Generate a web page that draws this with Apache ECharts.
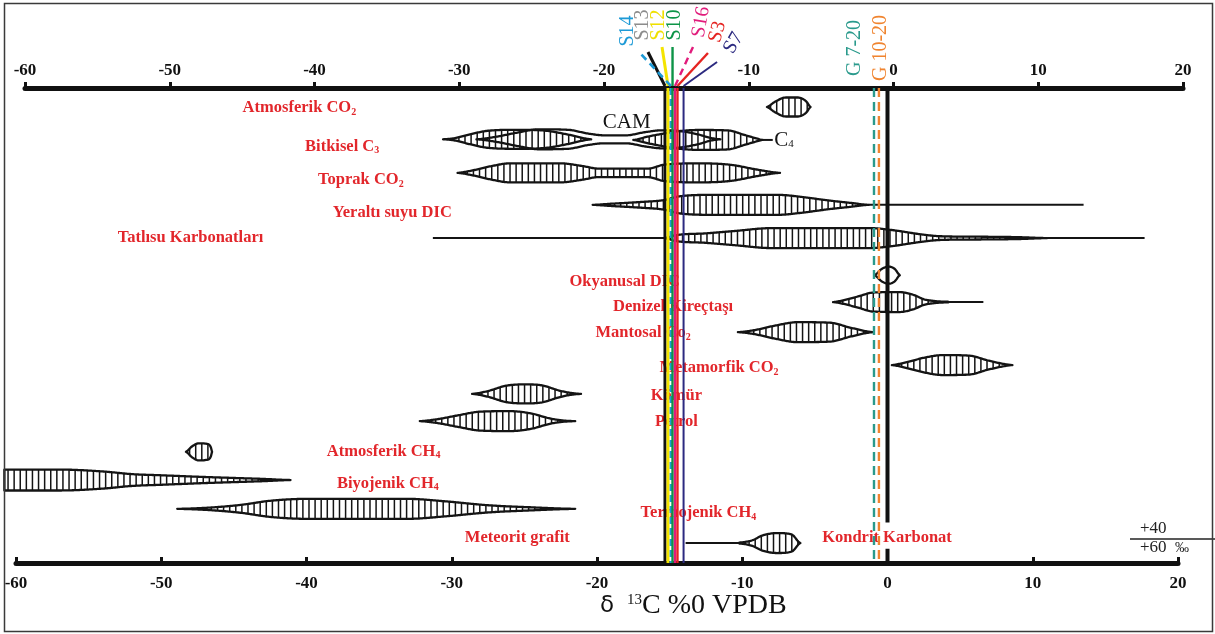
<!DOCTYPE html>
<html><head><meta charset="utf-8">
<script src="https://cdn.jsdelivr.net/npm/echarts@6/dist/echarts.min.js"></script>
<style>html,body{margin:0;padding:0;background:#fff}#c{width:1215px;height:634px}</style>
</head><body><div id="c"></div>
<script>
// ---------------- DATA ----------------
const tickMin = -60, tickMax = 20, tickStep = 10;

// reservoir labels ("_x" = subscript), anchor δ (left edge) and row
const labelTexts = ['Atmosferik CO_2','Bitkisel C_3','Toprak CO_2','Yeraltı suyu DIC','Tatlısu Karbonatları','Okyanusal DIC','Denizel Kireçtaşı','Mantosal Co_2','Metamorfik CO_2','Kömür','Petrol','Atmosferik CH_4','Biyojenik CH_4','Termojenik CH_4','Meteorit grafit','Kondrit Karbonat'];
const labelDelta = [-44.4,-40.1,-39.2,-38.2,-53.0,-21.9,-18.9,-20.1,-15.7,-16.3,-16.0,-38.6,-37.9,-17.0,-29.1,-4.5];
const labelRow   = [0.63,1.86,2.91,3.95,4.74,6.13,6.92,7.74,8.84,9.73,10.55,11.49,12.5,13.42,14.21,14.21];

// δ13C ranges drawn as spindles: profile = [δ, relative thickness]
const spindleNames = ['Atmosferik CO2','C3','CAM','C4','Toprak CO2','Yeraltı suyu DIC','Tatlısu Karbonatları','Okyanusal DIC','Denizel Kireçtaşı','Mantosal CO2','Metamorfik CO2','Kömür','Petrol','Atmosferik CH4','Biyojenik CH4','Termojenik CH4','Kondrit Karbonat'];
const spindleRow = [0.60,1.62,1.62,1.64,2.68,3.69,4.74,5.91,6.76,7.71,8.75,9.66,10.52,11.49,12.38,13.29,14.37];
const spindleHatched = [true,true,false,true,true,true,true,false,true,true,true,true,true,true,true,true,true];
const spindleProfiles = [
  [[-8.3,0],[-7.8,0.5],[-7.0,1.0],[-6.2,1.0],[-5.6,0.6],[-5.3,0]],
  [[-30.6,0],[-29.8,0.12],[-28.8,0.5],[-27.5,0.9],[-25.5,1.0],[-23.5,0.9],[-22,0.5],[-20.4,0]],
  [[-28.3,0],[-27,0.25],[-25.5,0.7],[-24,1.05],[-22,1.0],[-20.6,0.6],[-19.5,0.42],[-18,0.42],[-16.7,0.75],[-15.5,0.95],[-14.2,0.85],[-13,0.5],[-12.2,0.15],[-11.5,0]],
  [[-17.5,0],[-16.5,0.35],[-15.5,0.65],[-14.5,0.9],[-13,1.05],[-11,1.0],[-9.8,0.5],[-9,0.15],[-8.6,0]],
  [[-29.6,0],[-28.5,0.28],[-27.3,0.7],[-26,1.0],[-22.5,1.0],[-21,0.72],[-19.9,0.45],[-16.5,0.45],[-15.4,0.85],[-13,1.0],[-10.8,0.85],[-9,0.35],[-7.4,0]],
  [[-20.3,0],[-19,0.12],[-17,0.3],[-15.4,0.5],[-14.3,0.9],[-12,1.05],[-7.5,1.05],[-6,0.85],[-4,0.45],[-2.5,0.2],[-1.3,0]],
  [[-15.2,0.05],[-14.6,0.3],[-12.5,0.5],[-10.5,0.75],[-8,1.05],[-1.2,1.05],[0.3,0.85],[2.2,0.42],[3.6,0.2],[6,0.15],[9,0.1],[11,0]],
  [[-0.9,0],[-0.4,0.65],[0.1,0.9],[0.5,0.65],[0.85,0]],
  [[-3.75,0],[-3,0.2],[-2,0.6],[-1,1.0],[0.8,1.05],[1.8,0.75],[2.5,0.3],[3.3,0.1],[4.2,0.03]],
  [[-10.3,0],[-9.2,0.2],[-7.7,0.7],[-6.2,1.05],[-4,1.0],[-2.5,0.45],[-1,0]],
  [[0.3,0],[1.3,0.3],[2.6,0.8],[3.8,1.05],[5.6,1.0],[7,0.45],[8.6,0]],
  [[-28.6,0],[-27.5,0.3],[-26.3,0.85],[-25,1.0],[-23.8,0.9],[-22.6,0.35],[-21.8,0.1],[-21.1,0]],
  [[-32.2,0],[-31,0.2],[-29.6,0.6],[-28,1.0],[-26,1.05],[-24.5,0.8],[-23.3,0.3],[-22.4,0.08],[-21.5,0]],
  [[-48.3,0],[-47.9,0.55],[-47.4,0.9],[-46.9,0.85],[-46.6,0.55],[-46.5,0]],
  [[-60.8,1.1],[-57,1.1],[-54,0.9],[-52,0.62],[-50,0.5],[-47,0.32],[-45,0.22],[-43,0.12],[-41.1,0]],
  [[-48.9,0],[-46.5,0.15],[-44.5,0.42],[-42.5,0.85],[-40,1.05],[-33,1.05],[-30.5,0.8],[-27.5,0.38],[-24.5,0.16],[-21.5,0]],
  [[-10.2,0.05],[-9.3,0.3],[-8.6,0.8],[-7.6,1.05],[-6.6,0.9],[-6.0,0]]
];

// thin range lines: [row, from δ, to δ]
const tailRow  = [1.64, 3.69, 4.74, 4.74, 6.76, 14.37];
const tailFrom = [-8.6, -1.3, -31.3, 11, 4.2, -13.9];
const tailTo   = [-7.9, 13.5, -15.2, 17.7, 6.6, -10.2];

// small black labels on the plant row
const noteTexts = ['CAM', 'C_4'];
const noteDelta = [-19.6, -7.8];
const noteRow   = [1.1, 1.66];

// measured samples (vertical lines)
const sampleNames = ['S13','S12','S14','S10','S16','S3','S7','G 7-20','G 10-20'];
const sampleDelta = [-15.32,-15.11,-14.91,-14.80,-14.63,-14.46,-14.04,-0.93,-0.59];

// zero reference line segments (rows)
const zeroFrom = [0, 14.55];
const zeroTo   = [13.72, 15];

// ---------------- STYLE ----------------
const HH = 9.5, HATCH = 6.1, INK = '#141414', RED = '#e2262b';
const sampleStyle = {
  'S13':    {line:'#111111', text:'#8c8c8c', width:3,   dash:null,  lead:[-17,-36], leadDash:false, lab:[-22,-63], rot:90},
  'S12':    {line:'#f4e400', text:'#efe000', width:3,   dash:null,  lead:[-6,-41],  leadDash:false, lab:[-9,-63],  rot:90},
  'S14':    {line:'#1d9ad6', text:'#1d9ad6', width:2.6, dash:[7,4], lead:[-31,-35], leadDash:true,  lab:[-43,-57], rot:90},
  'S10':    {line:'#0d9447', text:'#0d9447', width:2.4, dash:null,  lead:[0,-41],   leadDash:false, lab:[2.5,-63], rot:90},
  'S16':    {line:'#e11b7b', text:'#e11b7b', width:2.4, dash:null,  lead:[18,-41],  leadDash:true,  lab:[26,-66],  rot:80},
  'S3':     {line:'#e52421', text:'#e52421', width:2.4, dash:null,  lead:[30.5,-35],leadDash:false, lab:[40,-56],  rot:75},
  'S7':     {line:'#2c2a80', text:'#2c2a80', width:2,   dash:null,  lead:[33.5,-26],leadDash:false, lab:[50,-45],  rot:60},
  'G 7-20': {line:'#2a9a8c', text:'#2a9a8c', width:2.4, dash:[9,5], lead:null, lab:[-19,-40], rot:90},
  'G 10-20':{line:'#f0842f', text:'#f0842f', width:2.4, dash:[9,5], lead:null, lab:[2,-40],   rot:90}
};

function richText(s) {
  const k = s.indexOf('_');
  if (k < 0) return '{m|' + s + '}';
  return '{m|' + s.slice(0, k) + '}{s|' + s.slice(k + 1) + '}';
}

function mono(xs, ys) {
  const n = xs.length, d = [], m = [];
  for (let i = 0; i < n - 1; i++) d.push((ys[i+1] - ys[i]) / Math.max(xs[i+1] - xs[i], 1e-6));
  m[0] = d[0] * 0.35; m[n-1] = d[n-2] * 0.35;
  for (let i = 1; i < n - 1; i++) m[i] = (d[i-1] * d[i] <= 0) ? 0 : (d[i-1] + d[i]) / 2;
  for (let i = 0; i < n - 1; i++) {
    if (d[i] === 0) { m[i] = 0; m[i+1] = 0; continue; }
    const a = m[i] / d[i], b = m[i+1] / d[i], s = a*a + b*b;
    if (s > 9) { const t = 3 / Math.sqrt(s); m[i] = t*a*d[i]; m[i+1] = t*b*d[i]; }
  }
  return function (x) {
    let i = 0;
    while (i < n - 2 && x > xs[i+1]) i++;
    const h = xs[i+1] - xs[i], t = Math.min(Math.max((x - xs[i]) / h, 0), 1);
    const t2 = t*t, t3 = t2*t;
    const v = (2*t3 - 3*t2 + 1)*ys[i] + (t3 - 2*t2 + t)*h*m[i] + (-2*t3 + 3*t2)*ys[i+1] + (t3 - t2)*h*m[i+1];
    return Math.max(v, 0);
  };
}

const chart = echarts.init(document.getElementById('c'), null, {renderer: 'canvas'});

const axisLabelStyle = {color: '#111', fontFamily: 'Liberation Serif', fontWeight: 'bold', fontSize: 17};

const option = {
  backgroundColor: '#fff',
  animation: false,
  grid: [
    {left: 16, right: 37, top: 88, bottom: 71},
    {left: 25, right: 32, top: 88, bottom: 71}
  ],
  xAxis: [
    {gridIndex: 0, type: 'value', min: tickMin, max: tickMax, interval: tickStep, position: 'bottom',
     axisLine: {show: true, onZero: false, lineStyle: {color: '#111', width: 5}},
     axisTick: {show: true, inside: true, length: 6, lineStyle: {color: '#111', width: 3}},
     axisLabel: Object.assign({margin: 12}, axisLabelStyle), splitLine: {show: false}},
    {gridIndex: 1, type: 'value', min: tickMin, max: tickMax, interval: tickStep, position: 'top',
     axisLine: {show: true, onZero: false, lineStyle: {color: '#111', width: 5}},
     axisTick: {show: true, inside: false, length: 6, lineStyle: {color: '#111', width: 3}},
     axisLabel: Object.assign({margin: 9}, axisLabelStyle), splitLine: {show: false}}
  ],
  yAxis: [
    {gridIndex: 0, type: 'value', min: 0, max: 15, inverse: true, show: false},
    {gridIndex: 1, type: 'value', min: 0, max: 1, show: false}
  ],
  graphic: [
    {type: 'rect', silent: true, z: 100, shape: {x: 4.5, y: 3.5, width: 1208, height: 628},
     style: {fill: 'none', stroke: '#3a3a3a', lineWidth: 1.5}},
    {type: 'text', silent: true, x: 600, y: 606, style: {
      text: '{d|δ}{g| }{u|13}{t|C %0 VPDB}', align: 'left', verticalAlign: 'middle',
      rich: {
        d: {fontFamily: 'DejaVu Sans', fontSize: 23, fill: '#111', lineHeight: 30, verticalAlign: 'middle'},
        g: {fontFamily: 'Liberation Serif', fontSize: 20, fill: '#111', lineHeight: 30, width: 13},
        u: {fontFamily: 'Liberation Serif', fontSize: 15, fill: '#111', lineHeight: 30, verticalAlign: 'top', padding: [2, 0, 0, 0]},
        t: {fontFamily: 'Liberation Serif', fontSize: 28, fill: '#111', lineHeight: 30, verticalAlign: 'middle'}
      }}},
    {type: 'text', silent: true, x: 1140, y: 529, style: {text: '+40', font: '17px "Liberation Serif"', fill: '#222', align: 'left', verticalAlign: 'middle'}},
    {type: 'line', silent: true, shape: {x1: 1130, y1: 539, x2: 1215, y2: 539}, style: {stroke: '#222', lineWidth: 1.6}},
    {type: 'text', silent: true, x: 1140, y: 548, style: {text: '{a|+60  }{b|‰}', align: 'left', verticalAlign: 'middle',
      rich: {a: {fontFamily: 'Liberation Serif', fontSize: 17, fill: '#222'}, b: {fontFamily: 'Liberation Serif', fontSize: 14, fill: '#222'}}}}
  ],
  series: [
    { // spindles
      type: 'custom', xAxisIndex: 0, yAxisIndex: 0, clip: false, z: 2, silent: true,
      data: spindleNames.map((n, i) => [spindleProfiles[i][0][0], spindleRow[i]]),
      encode: {x: 0, y: 1},
      renderItem: function (params, api) {
        const i = params.dataIndex, prof = spindleProfiles[i], row = spindleRow[i];
        const yc = api.coord([0, row])[1];
        const xs = prof.map(p => api.coord([p[0], row])[0]);
        const ws = prof.map(p => p[1] * HH);
        const f = mono(xs, ws);
        const x0 = xs[0], x1 = xs[xs.length - 1];
        const top = [], bot = [];
        for (let x = x0; x < x1; x += 1) { const h = f(x); top.push([x, yc - h]); bot.push([x, yc + h]); }
        top.push([x1, yc - ws[ws.length - 1]]); bot.push([x1, yc + ws[ws.length - 1]]);
        const children = [];
        if (spindleHatched[i]) {
          for (let x = x0 + HATCH * 0.6; x < x1; x += HATCH) {
            const h = f(x);
            if (h > 1.0) children.push({type: 'line', shape: {x1: x, y1: yc - h, x2: x, y2: yc + h}, style: {stroke: INK, lineWidth: 1.5}});
          }
        }
        children.push({type: 'polygon', shape: {points: top.concat(bot.reverse())}, style: {fill: 'none', stroke: INK, lineWidth: 2.3, lineJoin: 'round'}});
        return {type: 'group', children: children};
      }
    },
    { // thin range lines
      type: 'custom', xAxisIndex: 0, yAxisIndex: 0, clip: false, z: 2, silent: true,
      data: tailRow.map((r, i) => [tailFrom[i], r, tailTo[i]]),
      encode: {x: [0, 2], y: 1},
      renderItem: function (params, api) {
        const a = api.coord([api.value(0), api.value(1)]), b = api.coord([api.value(2), api.value(1)]);
        return {type: 'line', shape: {x1: a[0], y1: a[1], x2: b[0], y2: b[1]}, style: {stroke: INK, lineWidth: 2}};
      }
    },
    { // reservoir labels
      type: 'custom', xAxisIndex: 0, yAxisIndex: 0, clip: false, z: 3, silent: true,
      data: labelTexts.map((t, i) => [labelDelta[i], labelRow[i]]),
      encode: {x: 0, y: 1},
      renderItem: function (params, api) {
        const p = api.coord([api.value(0), api.value(1)]);
        return {type: 'text', x: p[0], y: p[1], style: {
          text: richText(labelTexts[params.dataIndex]), fill: RED, align: 'left', verticalAlign: 'middle',
          rich: {
            m: {fontFamily: 'Liberation Serif', fontWeight: 'bold', fontSize: 16.5, fill: RED, lineHeight: 20},
            s: {fontFamily: 'Liberation Serif', fontWeight: 'bold', fontSize: 10, fill: RED, lineHeight: 20, verticalAlign: 'bottom', padding: [0, 0, 1, 0]}
          }}};
      }
    },
    { // black notes (CAM, C4)
      type: 'custom', xAxisIndex: 0, yAxisIndex: 0, clip: false, z: 3, silent: true,
      data: noteTexts.map((t, i) => [noteDelta[i], noteRow[i]]),
      encode: {x: 0, y: 1},
      renderItem: function (params, api) {
        const p = api.coord([api.value(0), api.value(1)]);
        return {type: 'text', x: p[0], y: p[1], style: {
          text: richText(noteTexts[params.dataIndex]), fill: INK, align: 'left', verticalAlign: 'middle',
          rich: {
            m: {fontFamily: 'Liberation Serif', fontSize: 21, fill: INK, lineHeight: 24},
            s: {fontFamily: 'Liberation Serif', fontSize: 11, fill: INK, lineHeight: 24, verticalAlign: 'bottom', padding: [0, 0, 3, 0]}
          }}};
      }
    },
    { // zero line
      type: 'custom', xAxisIndex: 0, yAxisIndex: 0, clip: false, z: 4, silent: true,
      data: zeroFrom.map((r, i) => [0, r, zeroTo[i]]),
      encode: {x: 0, y: [1, 2]},
      renderItem: function (params, api) {
        const a = api.coord([0, api.value(1)]), b = api.coord([0, api.value(2)]);
        return {type: 'line', shape: {x1: a[0], y1: a[1], x2: b[0], y2: b[1]}, style: {stroke: '#111', lineWidth: 4}};
      }
    },
    { // sample lines + labels
      type: 'custom', xAxisIndex: 0, yAxisIndex: 0, clip: false, z: 5, silent: true,
      data: sampleDelta.map(v => [v, 0]),
      encode: {x: 0, y: 1},
      renderItem: function (params, api) {
        const name = sampleNames[params.dataIndex], st = sampleStyle[name];
        const t = api.coord([api.value(0), 0]), b = api.coord([api.value(0), 15]);
        const children = [
          {type: 'line', shape: {x1: t[0], y1: t[1], x2: b[0], y2: b[1]},
           style: {stroke: st.line, lineWidth: st.width, lineDash: st.dash || null}}
        ];
        if (st.lead) children.push({type: 'line', shape: {x1: t[0], y1: t[1] - 2, x2: t[0] + st.lead[0], y2: t[1] + st.lead[1]},
           style: {stroke: st.line, lineWidth: st.width, lineDash: st.leadDash ? [7, 5] : null}});
        children.push({type: 'text', x: t[0] + st.lab[0], y: t[1] + st.lab[1], rotation: st.rot * Math.PI / 180,
          style: {text: name, fill: st.text, font: '20px "Liberation Serif"', align: 'center', verticalAlign: 'middle'}});
        return {type: 'group', children: children};
      }
    }
  ]
};
chart.setOption(option);
</script>
</body></html>
